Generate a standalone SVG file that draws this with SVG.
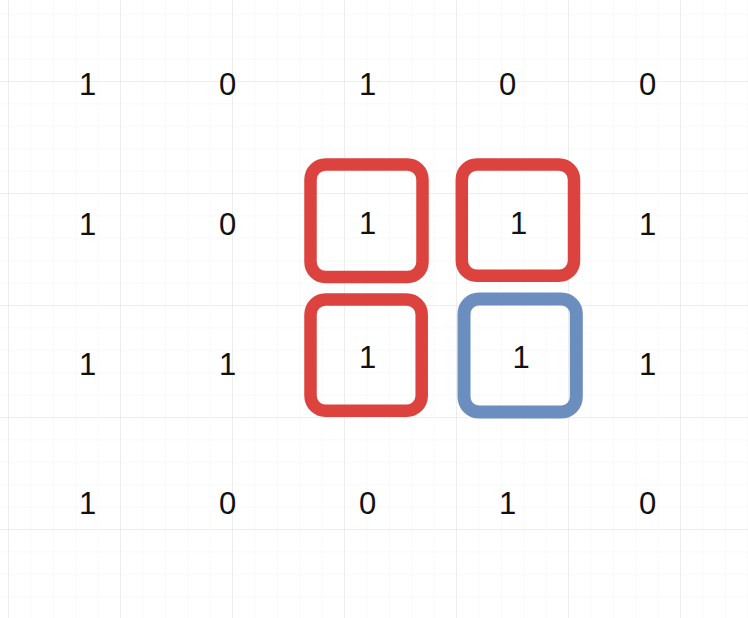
<svg xmlns="http://www.w3.org/2000/svg" width="748" height="618" viewBox="0 0 748 618">
<defs>
<pattern id="minor" x="8" y="81" width="22.4" height="22.4" patternUnits="userSpaceOnUse">
<path d="M0 0V22.4M0 0H22.4" fill="none" stroke="#f4f4f4" stroke-width="1"/>
</pattern>
<pattern id="major" x="8" y="81" width="112" height="112" patternUnits="userSpaceOnUse">
<path d="M0 0V112M0 0H112" fill="none" stroke="#e4e4e4" stroke-width="1.2"/>
</pattern>
</defs>
<style>
.t{font-family:"Liberation Sans",Arial,sans-serif;font-size:31px;fill:#111111;text-anchor:middle}
.r{fill:none;stroke:#dc433f;stroke-width:12.5}
.b{fill:none;stroke:#6c8ebf;stroke-width:13}
</style>
<rect width="748" height="618" fill="#ffffff"/>
<rect width="748" height="618" fill="url(#minor)"/>
<rect width="748" height="618" fill="url(#major)"/>
<g id="values">
<text class="t" x="87.5" y="94.5">1</text>
<text class="t" x="227.5" y="94.5">0</text>
<text class="t" x="367.5" y="94.5">1</text>
<text class="t" x="507.5" y="94.5">0</text>
<text class="t" x="647.5" y="94.5">0</text>
<text class="t" x="87.5" y="235">1</text>
<text class="t" x="227.5" y="235">0</text>
<text class="t" x="647.5" y="235">1</text>
<text class="t" x="87.5" y="374.5">1</text>
<text class="t" x="227.5" y="374.5">1</text>
<text class="t" x="647.5" y="374.5">1</text>
<text class="t" x="87.5" y="514">1</text>
<text class="t" x="227.5" y="514">0</text>
<text class="t" x="367.5" y="514">0</text>
<text class="t" x="507.5" y="514">1</text>
<text class="t" x="647.5" y="514">0</text>
</g>
<g id="box1">
<rect class="r" x="310.5" y="164.5" width="112" height="112.5" rx="15"/>
<text class="t" x="367.5" y="233.5">1</text>
</g>
<g id="box2">
<rect class="r" x="461.8" y="164.5" width="112.2" height="111.2" rx="15"/>
<text class="t" x="518.5" y="233.5">1</text>
</g>
<g id="box3">
<rect class="r" x="310.5" y="299.5" width="111.2" height="111.2" rx="15"/>
<text class="t" x="367.5" y="368">1</text>
</g>
<g id="box4">
<rect class="b" x="464" y="299" width="112.3" height="113" rx="15"/>
<text class="t" x="521" y="368">1</text>
</g>
<g id="connectors"/>
</svg>
